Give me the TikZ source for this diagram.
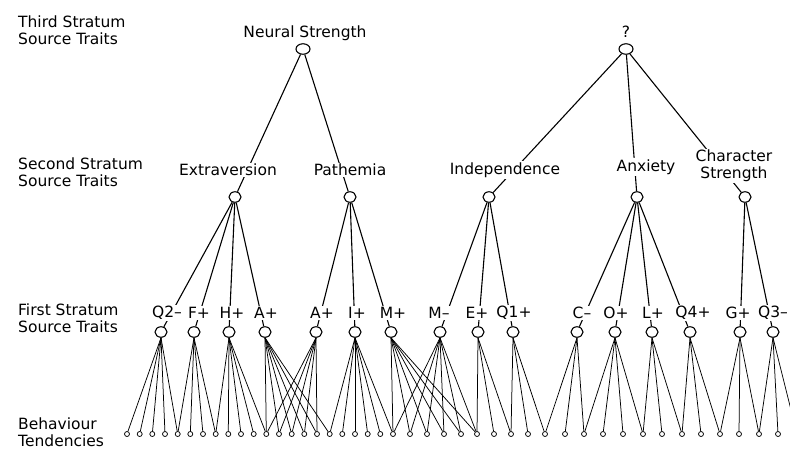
\documentclass[tikz,border=0pt]{standalone}
\usepackage{fontspec}
\setmainfont{DejaVu Sans}
\usetikzlibrary{shapes.geometric}
\begin{document}
\begin{tikzpicture}[x=1pt,y=-1pt,
  lab/.style={font=\fontsize{15.5}{17}\selectfont, inner sep=1.2pt, fill=white, align=center},
  side/.style={font=\fontsize{15.5}{17}\selectfont, align=left, anchor=west, inner sep=0pt},
  big/.style={draw, ellipse, fill=white, minimum width=14pt, minimum height=10.5pt, inner sep=0pt, line width=1.1pt},
  mid/.style={draw, ellipse, fill=white, minimum width=12pt, minimum height=10.5pt, inner sep=0pt, line width=1.1pt},
  tiny/.style={draw, circle, fill=white, minimum size=5pt, inner sep=0pt, line width=0.75pt},
  link/.style={line width=1.1pt},
  leaf/.style={line width=0.75pt}]
\useasboundingbox (0,0) rectangle (790,451);
\clip (0,0) rectangle (790,451);
\fill[white] (0,0) rectangle (790,451);

% third stratum
\node[big] (ns) at (303,49) {};
\node[big] (qq) at (626,49) {};
% second stratum
\node[mid] (ext) at (235,197) {};
\node[mid] (pat) at (350,197) {};
\node[mid] (ind) at (489,197) {};
\node[mid] (anx) at (637,197) {};
\node[mid] (chs) at (745,197) {};
% first stratum
\foreach \n/\x in {q2/161,f/194,h/229,aa/265,ab/316,i/355,mp/391,mm/440,e/478,qa/513,c/577,o/615,l/652,qd/690,g/740,qc/773}
  \node[mid] (\n) at (\x,332) {};
% behaviour tendencies
\foreach \x [count=\k] in {127,139.7,152.3,165,177.7,190.3,203,215.7,228.3,241,253.7,266.3,279,291.7,304.3,317,329.7,342.3,355,367.7,380.3,393,410,427,444,461,477,494,511,528,545,565,584,603,623,643,662,682,701,720,739,759,778}
  \node[tiny] (b\k) at (\x,434) {};
\coordinate (b44) at (797,434);

% links
\draw[link] (ns) -- (ext);
\draw[link] (ns) -- (pat);
\draw[link] (qq) -- (ind);
\draw[link] (qq) -- (anx);
\draw[link] (qq) -- (chs);
\foreach \p/\n in {ext/q2,ext/f,ext/h,ext/aa,pat/ab,pat/i,pat/mp,ind/mm,ind/e,ind/qa,anx/c,anx/o,anx/l,anx/qd,chs/g,chs/qc}
  \draw[link] (\p) -- (\n);
\foreach \s/\lst in {q2/{1,2,3,4,5},f/{5,6,7,8},h/{8,9,10,11,12},aa/{12,13,14,15,16,17},ab/{12,13,14,15,16},i/{17,18,19,20,21,22},mp/{22,23,24,25,26,27},mm/{22,23,24,25,26,27},e/{27,28,29},qa/{29,30,31},c/{31,32,33},o/{33,34,35,36},l/{36,37,38},qd/{38,39,40},g/{40,41,42},qc/{42,43,44}}
  \foreach \t in \lst
    \draw[leaf] (\s.south) -- (b\t);

% labels
\node[lab] (tns) at (305,33) {Neural Strength};
\node[lab] (tqq) at (626,32) {?};
\node[lab] (text) at (228,170) {Extraversion};
\node[lab] (tpat) at (350,170) {Pathemia};
\node[lab] (tind) at (505,170) {Independence};
\node[lab] (tanx) at (646,167) {Anxiety};
\node[lab] (tchs) at (734,166) {Character\\Strength};
\foreach \n/\x/\t in {q2/167/Q2–,f/199/F+,h/232/H+,aa/266/A+,ab/322/A+,i/357/I+,mp/393/M+,mm/439/M–,e/477/E+,qa/514/Q1+,c/582/C–,o/616/O+,l/653/L+,qd/693/Q4+,g/738/G+,qc/773/Q3–}
  \node[lab] (t\n) at (\x,313) {\t};

\node[side] (s3) at (18,30.5) {Third Stratum\\Source Traits};
\node[side] (s2) at (18,172) {Second Stratum\\Source Traits};
\node[side] (s1) at (18,318.5) {First Stratum\\Source Traits};
\node[side] (s0) at (18,432) {Behaviour\\Tendencies};
\end{tikzpicture}
\end{document}
